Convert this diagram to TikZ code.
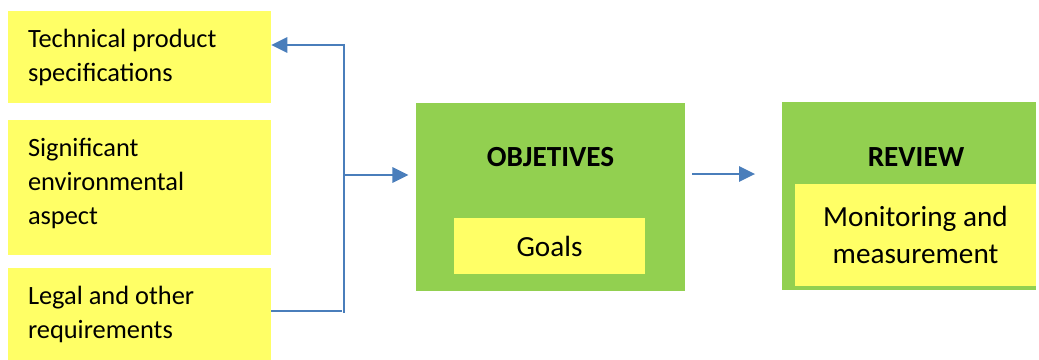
\documentclass[tikz,border=0pt]{standalone}
\usepackage{fontspec}
\setmainfont{Carlito}
\usetikzlibrary{arrows.meta}
\definecolor{boxyellow}{HTML}{FFFF66}
\definecolor{boxgreen}{HTML}{92D050}
\definecolor{linkblue}{HTML}{4A7EBB}
\begin{document}
\begin{tikzpicture}[x=0.75pt,y=-0.75pt,
  inputbox/.style={fill=boxyellow, draw=none, minimum width=263*0.75pt,
    text width=167.25pt, inner xsep=15pt, align=flush left,
    font=\fontsize{19.8}{25.5}\selectfont},
  stagebox/.style={fill=boxgreen, draw=none},
  innerbox/.style={fill=boxyellow, draw=none, align=center,
    font=\fontsize{21.9}{27.5}\selectfont},
  headtext/.style={font=\fontsize{21.9}{27.5}\selectfont\bfseries, inner sep=0pt},
  link/.style={draw=linkblue, line width=1.5pt},
  linkarrow/.style={link, -{Triangle[length=12pt,width=11.5pt]}}]
\useasboundingbox (0,0) rectangle (1039,360);

% inputs on the left
\node[inputbox, minimum height=92*0.75pt] (tps) at (139.5,57) {Technical product\\specifications};
\node[inputbox, minimum height=135*0.75pt] (sea) at (139.5,187.5) {Significant\\environmental\\aspect\rule[-8.5pt]{0pt}{8.5pt}};
\node[inputbox, minimum height=92*0.75pt] (lor) at (139.5,314) {Legal and other\\requirements};

% objectives stage
\node[stagebox, minimum width=269*0.75pt, minimum height=188*0.75pt] (obj) at (550.5,197) {};
\node[headtext] (objt) at (550.5,157) {OBJETIVES};
\node[innerbox, minimum width=191*0.75pt, minimum height=56*0.75pt] (goals) at (549.5,246) {Goals};

% review stage
\node[stagebox, minimum width=254*0.75pt, minimum height=188*0.75pt] (rev) at (909,196) {};
\node[headtext] (revt) at (916,157) {REVIEW};
\node[innerbox, minimum width=241*0.75pt, minimum height=102*0.75pt] (mon) at (915.5,235) {Monitoring and\\measurement};

% collector bar
\coordinate (bartop) at (343.5,44);
\coordinate (barbot) at (343.5,313);
\coordinate (topj) at (344.5,45);
\coordinate (botj) at (342,311);
\coordinate (midj) at (345,175);
\coordinate (revj) at (692,174);

\draw[link] (bartop) -- (barbot);
\draw[linkarrow] (topj) -- (tps.east |- topj);
\draw[link] (lor.east |- botj) -- (botj);
\draw[linkarrow] (midj) -- ([xshift=-5.5pt]obj.west |- midj);
\draw[linkarrow] (revj) -- ([xshift=-20pt]rev.west |- revj);
\end{tikzpicture}
\end{document}
